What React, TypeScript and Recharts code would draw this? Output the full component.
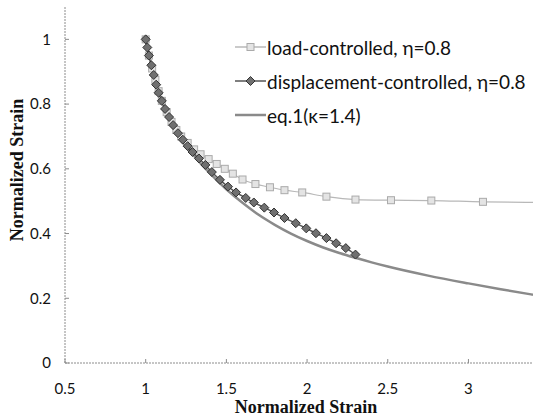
import { ComposedChart, Line, XAxis, YAxis, Label } from "recharts";

// ── data ──────────────────────────────────────────────────────────────────────
const loadX = [1.0, 1.02, 1.04, 1.06, 1.08, 1.1, 1.13, 1.16, 1.19, 1.22, 1.26, 1.3, 1.34, 1.39, 1.44, 1.49, 1.54, 1.6, 1.68, 1.77, 1.86, 1.97, 2.12, 2.3, 2.52, 2.77, 3.09, 3.45];
const loadY = [1.0, 0.95, 0.91, 0.875, 0.84, 0.81, 0.775, 0.745, 0.72, 0.7, 0.68, 0.66, 0.645, 0.63, 0.615, 0.6, 0.585, 0.567, 0.553, 0.543, 0.534, 0.527, 0.514, 0.505, 0.503, 0.502, 0.498, 0.496];

const dispX = [1.0, 1.01, 1.02, 1.035, 1.05, 1.065, 1.08, 1.1, 1.12, 1.145, 1.17, 1.2, 1.23, 1.26, 1.29, 1.33, 1.37, 1.41, 1.46, 1.51, 1.56, 1.62, 1.67, 1.735, 1.795, 1.86, 1.93, 1.995, 2.055, 2.12, 2.18, 2.24, 2.3];
const dispY = [1.0, 0.975, 0.95, 0.92, 0.89, 0.86, 0.835, 0.81, 0.785, 0.76, 0.735, 0.71, 0.69, 0.67, 0.652, 0.632, 0.612, 0.59, 0.566, 0.545, 0.527, 0.51, 0.496, 0.48, 0.465, 0.448, 0.432, 0.416, 0.401, 0.386, 0.37, 0.355, 0.335];

const eqX = [1.0, 1.05, 1.1, 1.15, 1.2, 1.3, 1.4, 1.5, 1.6, 1.7, 1.8, 1.9, 2.0, 2.1, 2.2, 2.3, 2.4, 2.5, 2.75, 3.0, 3.2, 3.4];
const eqY = [1.0, 0.89, 0.81, 0.75, 0.705, 0.64, 0.585, 0.537, 0.495, 0.458, 0.427, 0.4, 0.377, 0.357, 0.34, 0.325, 0.311, 0.298, 0.27, 0.246, 0.228, 0.211];

const xTicks = [0.5, 1, 1.5, 2, 2.5, 3];
const yTicks = [0, 0.2, 0.4, 0.6, 0.8, 1];

const zip = (xs: number[], ys: number[]) => xs.map((x, i) => ({ x, y: ys[i] }));
const loadData = zip(loadX, loadY);
const dispData = zip(dispX, dispY);
const eqData = zip(eqX, eqY);

const SERIES = [
  { name: "load-controlled, η=0.8", color: "#b8b8b8", shape: "square" },
  { name: "displacement-controlled, η=0.8", color: "#555555", shape: "diamond" },
  { name: "eq.1(κ=1.4)", color: "#8a8a8a", shape: "none" },
];

// ── markers ───────────────────────────────────────────────────────────────────
function Square(props: any) {
  const { cx, cy } = props;
  if (cx == null || cy == null) return <g key={props.key} />;
  return (
    <rect key={props.key} x={cx - 3.5} y={cy - 3.5} width={7} height={7}
      fill="#e4e4e4" stroke="#aaaaaa" strokeWidth={1} />
  );
}

function Diamond(props: any) {
  const { cx, cy } = props;
  if (cx == null || cy == null) return <g key={props.key} />;
  const r = 4.5;
  return (
    <polygon key={props.key}
      points={`${cx},${cy - r} ${cx + r},${cy} ${cx},${cy + r} ${cx - r},${cy}`}
      fill="#707070" stroke="#333333" strokeWidth={1} />
  );
}

function LegendBox() {
  return (
    <div style={{ position: "absolute", left: 235, top: 30, fontFamily: "Lato, sans-serif", fontSize: 19, color: "#111" }}>
      {SERIES.map((s) => (
        <div key={s.name} style={{ display: "flex", alignItems: "center", height: 34, whiteSpace: "nowrap" }}>
          <svg width={31} height={12} style={{ marginRight: 1 }}>
            <line x1={0} y1={6} x2={31} y2={6} stroke={s.color} strokeWidth={s.shape === "none" ? 2.5 : 1.5} />
            {s.shape === "square" && <Square cx={15.5} cy={6} />}
            {s.shape === "diamond" && <Diamond cx={15.5} cy={6} />}
          </svg>
          <span>{s.name}</span>
        </div>
      ))}
    </div>
  );
}

const axisStroke = { stroke: "#8c8c8c", strokeDasharray: "2 1" };
const tickStyle = { fontFamily: "Lato, sans-serif", fontSize: 15, fill: "#111" };
const titleStyle = { fontFamily: "'Liberation Serif', serif", fontSize: 18, fontWeight: 700, fill: "#111" };

export default function App() {
  return (
    <div style={{ position: "relative", width: 533, height: 418, background: "#fff", overflow: "hidden" }}>
      <style>{`body{margin:0}`}</style>
      <ComposedChart width={533} height={418} margin={{ top: 7, right: 0, bottom: 0, left: 0 }}>
        <XAxis type="number" dataKey="x" domain={[0.5, 3.4]} ticks={xTicks} allowDataOverflow
          height={55} axisLine={axisStroke} tickLine={{ stroke: "#8c8c8c" }} tickSize={-4} tickMargin={24}
          tick={tickStyle} interval={0}>
          <Label value="Normalized Strain" position="insideBottom" offset={5} dx={7} style={titleStyle} />
        </XAxis>
        <YAxis type="number" dataKey="y" domain={[0, 1.1]} ticks={yTicks} allowDataOverflow
          width={65} axisLine={axisStroke} tickLine={{ stroke: "#8c8c8c" }} tickSize={-4} tickMargin={18}
          tick={tickStyle} interval={0}>
          <Label value="Normalized Strain" angle={-90} position="insideLeft" offset={17} dy={-15}
            style={{ ...titleStyle, textAnchor: "middle" }} />
        </YAxis>
        <Line data={eqData} dataKey="y" type="monotone" name={SERIES[2].name} stroke="#8a8a8a" strokeWidth={2.5}
          dot={false} isAnimationActive={false} />
        <Line data={loadData} dataKey="y" type="monotone" name={SERIES[0].name} stroke="#b8b8b8" strokeWidth={1.2}
          dot={Square} isAnimationActive={false} />
        <Line data={dispData} dataKey="y" type="monotone" name={SERIES[1].name} stroke="#555555" strokeWidth={1.5}
          dot={Diamond} isAnimationActive={false} />
      </ComposedChart>
      <LegendBox />
    </div>
  );
}
